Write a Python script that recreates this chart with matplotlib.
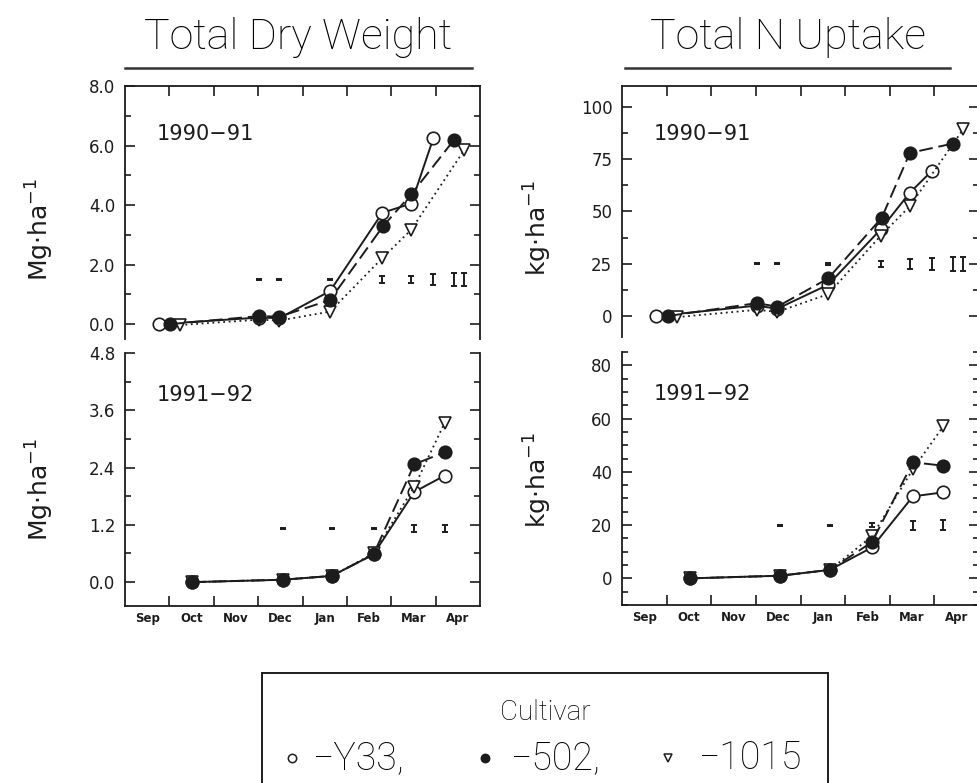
import matplotlib

matplotlib.use("Agg")
import matplotlib.pyplot as plt
import numpy as np
from matplotlib import font_manager
from matplotlib.lines import Line2D
from matplotlib.patches import Rectangle
from matplotlib.ticker import FormatStrFormatter, MultipleLocator

MONTHS = ["Sep", "Oct", "Nov", "Dec", "Jan", "Feb", "Mar", "Apr"]
CULTIVARS = ["Y33", "502", "1015"]

# 1990-91 sampling dates, months after 1 Sep
date_9091_y33 = [0.77, 3.02, 3.48, 4.62, 5.80, 6.45, 6.95]
date_9091_502 = [1.02, 3.02, 3.48, 4.62, 5.82, 6.45, 7.42]
date_9091_1015 = [1.24, 3.02, 3.48, 4.62, 5.80, 6.45, 7.65]

dw_9091_y33 = [0.0, 0.22, 0.20, 1.11, 3.74, 4.05, 6.25]
dw_9091_502 = [0.0, 0.27, 0.25, 0.81, 3.30, 4.36, 6.20]
dw_9091_1015 = [-0.03, 0.15, 0.12, 0.42, 2.22, 3.17, 5.86]

nu_9091_y33 = [0.0, 5.0, 3.5, 15.0, 41.5, 59.0, 69.5]
nu_9091_502 = [0.0, 6.2, 4.5, 18.0, 47.0, 78.0, 82.5]
nu_9091_1015 = [-0.5, 3.0, 2.0, 10.5, 38.5, 52.5, 89.5]

# LSD bars 1990-91
lsd_9091_x = [3.02, 3.48, 4.62, 5.80, 6.45, 6.95, 7.42, 7.65]
lsd_dw_9091 = [0.01, 0.01, 0.01, 0.11, 0.11, 0.17, 0.22, 0.22]
lsd_nu_9091 = [0.3, 0.3, 0.5, 1.5, 2.4, 2.9, 3.3, 3.3]

# 1991-92 sampling dates
date_9192 = [1.52, 3.55, 4.66, 5.60, 6.52, 7.20]

dw_9192_y33 = [0.0, 0.05, 0.13, 0.58, 1.89, 2.23]
dw_9192_502 = [0.0, 0.05, 0.13, 0.58, 2.47, 2.72]
dw_9192_1015 = [0.0, 0.05, 0.13, 0.60, 2.00, 3.33]

nu_9192_y33 = [0.0, 1.0, 3.2, 11.6, 30.8, 32.3]
nu_9192_502 = [0.0, 1.0, 3.2, 13.6, 43.6, 42.3]
nu_9192_1015 = [0.0, 1.0, 3.2, 15.8, 41.0, 57.1]

lsd_9192_x = [3.55, 4.66, 5.60, 6.52, 7.20]
lsd_dw_9192 = [0.01, 0.01, 0.01, 0.07, 0.08]
lsd_nu_9192 = [0.2, 0.2, 0.8, 1.7, 2.0]

INK = "#1c1c1c"
W, H = 977, 783

names = {f.name for f in font_manager.fontManager.ttflist}
THIN = ["Roboto", "DejaVu Sans"] if "Roboto" in names else ["DejaVu Sans"]

STYLE = {
    "Y33": dict(marker="o", mfc="white", ls="-", lw=1.4, ms=9, zorder=3),
    "1015": dict(marker="v", mfc="white", ls=(0, (1, 2)), lw=1.3, ms=8, zorder=4),
    "502": dict(marker="o", mfc=INK, ls=(0, (7, 3)), lw=1.4, ms=9, zorder=5),
}

plt.rcParams["font.family"] = ["DejaVu Sans"]
fig = plt.figure(figsize=(W / 100, H / 100), dpi=100)
fig.patch.set_facecolor("white")


def add_axes(left, top, right, bottom):
    return fig.add_axes([left / W, 1 - bottom / H, (right - left) / W, (bottom - top) / H])


def draw_series(ax, dates, series):
    for name in ["Y33", "1015", "502"]:
        st = STYLE[name]
        ax.plot(dates[name], series[name], color=INK, mec=INK, mew=1.2, clip_on=False, **st)


def draw_lsd(ax, xs, level, half):
    ax.errorbar(xs, [level] * len(xs), yerr=half, fmt="none", ecolor=INK,
                elinewidth=1.4, capsize=2.5, capthick=1.4, zorder=2)


def style(ax, ylim, major, minor, fmt, top_panel, year):
    ax.set_xlim(0, 8)
    ax.set_xticks(np.arange(1, 8))
    ax.yaxis.set_major_locator(MultipleLocator(major))
    ax.yaxis.set_minor_locator(MultipleLocator(minor))
    ax.yaxis.set_major_formatter(FormatStrFormatter(fmt))
    ax.set_ylim(*ylim)
    for spine in ax.spines.values():
        spine.set_color(INK)
        spine.set_linewidth(1.3)
    ax.tick_params(axis="y", which="both", direction="in", left=True, right=True,
                   colors=INK, labelsize=12, pad=7, width=1.2)
    ax.tick_params(axis="y", which="major", length=7)
    ax.tick_params(axis="y", which="minor", length=4)
    if top_panel:
        ax.spines["bottom"].set_visible(False)
        ax.tick_params(axis="x", which="major", direction="in", top=True, bottom=False,
                       labeltop=False, labelbottom=False, length=7, width=1.2, colors=INK)
    else:
        ax.spines["top"].set_visible(False)
        ax.tick_params(axis="x", which="major", direction="in", top=False, bottom=True,
                       labelbottom=False, length=7, width=1.2, colors=INK)
        ax.set_xticks(np.arange(0.5, 8, 1), minor=True)
        ax.set_xticklabels(MONTHS, minor=True, fontsize=8.5, fontweight="bold")
        ax.tick_params(axis="x", which="minor", length=0, pad=4, colors=INK)
    ax.text(0.09, 0.81 if top_panel else 0.835, year, transform=ax.transAxes,
            fontsize=15, color=INK, va="center", ha="left")


ax_tl = add_axes(125, 86, 480, 339)
ax_bl = add_axes(125, 353, 480, 606)
ax_tr = add_axes(622, 86, 979, 337)
ax_br = add_axes(622, 352, 979, 605)

d9091 = {"Y33": date_9091_y33, "502": date_9091_502, "1015": date_9091_1015}
d9192 = {"Y33": date_9192, "502": date_9192, "1015": date_9192}

draw_series(ax_tl, d9091, {"Y33": dw_9091_y33, "502": dw_9091_502, "1015": dw_9091_1015})
draw_lsd(ax_tl, lsd_9091_x, 1.5, lsd_dw_9091)
style(ax_tl, (-0.5, 8.0), 2.0, 1.0, "%.1f", True, "1990\u221291")

draw_series(ax_bl, d9192, {"Y33": dw_9192_y33, "502": dw_9192_502, "1015": dw_9192_1015})
draw_lsd(ax_bl, lsd_9192_x, 1.12, lsd_dw_9192)
style(ax_bl, (-0.5, 4.8), 1.2, 0.6, "%.1f", False, "1991\u221292")

draw_series(ax_tr, d9091, {"Y33": nu_9091_y33, "502": nu_9091_502, "1015": nu_9091_1015})
draw_lsd(ax_tr, lsd_9091_x, 25, lsd_nu_9091)
style(ax_tr, (-10, 110), 25, 12.5, "%d", True, "1990\u221291")

draw_series(ax_br, d9192, {"Y33": nu_9192_y33, "502": nu_9192_502, "1015": nu_9192_1015})
draw_lsd(ax_br, lsd_9192_x, 20, lsd_nu_9192)
style(ax_br, (-10, 85), 20, 5, "%d", False, "1991\u221292")

# axis unit labels
for (x, y), label in [((40, 230), r"Mg$\cdot$ha$^{-1}$"), ((40, 490), r"Mg$\cdot$ha$^{-1}$"),
                      ((538, 228), r"kg$\cdot$ha$^{-1}$"), ((538, 480), r"kg$\cdot$ha$^{-1}$")]:
    fig.text(x / W, 1 - y / H, label, rotation=90, ha="center", va="center",
             fontsize=18, color=INK)

# underlined column titles
for (x0, x1), title in [((125, 472), "Total Dry Weight"), ((625, 950), "Total N Uptake")]:
    fig.text((x0 + x1) / 2 / W, 1 - 38 / H, title, ha="center", va="center",
             fontsize=31, family=THIN, fontweight="light", color="black")
    fig.add_artist(Line2D([x0 / W, x1 / W], [1 - 68 / H, 1 - 68 / H], color="#333333", lw=1.8))

# legend box, bottom edge runs off the page
fig.add_artist(Rectangle((262 / W, -0.05), (828 - 262) / W, 1 - 673 / H + 0.05,
                         fill=False, edgecolor=INK, lw=1.4, transform=fig.transFigure))
fig.text(545 / W, 1 - 712 / H, "Cultivar", ha="center", va="center", fontsize=20,
         family=THIN, fontweight="light", color="black")
entry_x = {"Y33": (292, 312), "502": (485, 510), "1015": (668, 698)}
for name in CULTIVARS:
    mx, tx = entry_x[name]
    st = STYLE[name]
    fig.add_artist(Line2D([mx / W], [1 - 758 / H], marker=st["marker"], ms=6,
                          mfc=st["mfc"], mec=INK, mew=1.1, ls="none"))
    sep = "" if name == "1015" else ","
    fig.text(tx / W, 1 - 758 / H, "\u2212" + name + sep, ha="left", va="center",
             fontsize=27, family=THIN, fontweight="light", color="black")

fig.savefig("out.png", dpi=100, facecolor="white")
